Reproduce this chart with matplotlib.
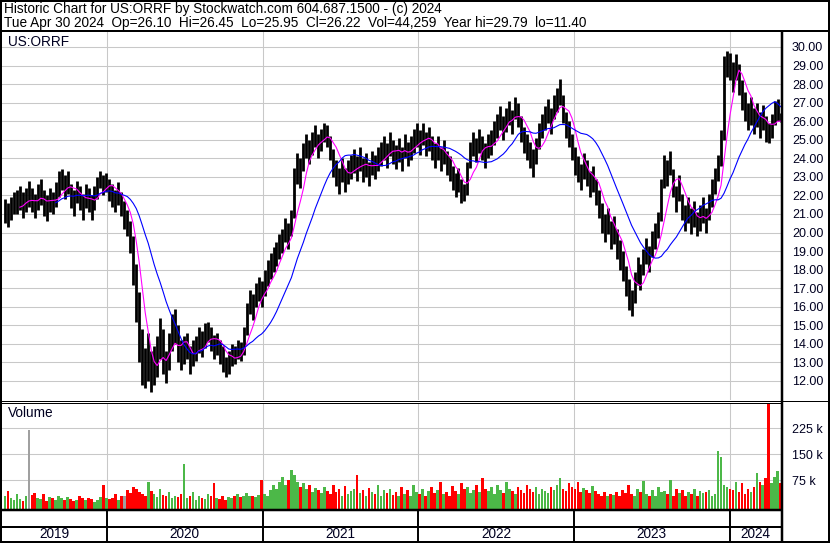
import matplotlib
matplotlib.use("Agg")
import matplotlib.pyplot as plt
from matplotlib.lines import Line2D
import numpy as np
import pandas as pd

plt.rcParams['font.family'] = ['Liberation Sans', 'DejaVu Sans']

# weekly values (US:ORRF, May 2019 - Apr 2024)
close = [21.0, 20.9, 21.3, 21.5,
         21.6, 21.9, 21.4, 21.8, 22.0, 21.7, 21.5, 21.9, 22.2, 21.6, 21.3, 21.8, 21.6,
         22.0, 22.6, 23.0, 22.4, 22.8,
         22.0, 21.6, 22.3, 21.9, 21.5, 22.0, 21.8, 21.4, 21.9,
         22.5, 23.0, 22.6, 22.8, 22.3,
         22.0, 21.7, 22.2, 21.6, 21.0,
         20.4, 19.6, 18.0, 16.5, 14.8,
         13.0, 12.2, 13.5, 12.0, 12.8,
         13.5, 14.6, 13.2, 12.5, 13.8, 14.8, 15.3, 13.9,
         13.2, 13.6, 13.9, 13.0, 13.4, 13.7, 14.2, 14.0,
         14.5, 14.8, 14.3, 13.9, 14.1, 13.6,
         13.2, 12.7, 13.0, 13.5, 13.4, 13.8, 13.6,
         14.2, 15.5, 16.3, 16.0, 16.8, 17.0,
         16.7, 17.3, 17.8, 18.2, 18.6, 18.9,
         19.3, 19.6, 20.2, 19.8, 20.5,
         22.8, 23.6, 23.2, 24.2, 24.8,
         24.4, 24.9, 25.3, 24.7, 25.1, 25.6, 25.3,
         24.6, 23.8, 23.2, 22.8, 23.4, 22.9,
         23.3, 23.6, 23.9, 23.5, 24.0, 23.4, 23.7, 23.2, 23.8, 23.6,
         24.0, 24.3, 24.6, 24.2, 24.8, 24.4, 24.1, 24.5, 24.0, 24.7, 24.3, 24.6,
         25.0, 25.3, 24.9, 25.4, 24.8, 25.1, 24.6,
         24.2, 24.6, 24.0, 24.4, 23.8,
         23.5, 23.0, 22.6, 22.9, 22.3, 22.0,
         23.2, 24.3, 24.8, 24.5, 25.0, 24.6, 24.2, 24.7, 24.9,
         25.4, 25.8, 26.2, 25.7, 26.1, 26.5, 26.0, 26.8, 26.4,
         25.6, 25.0, 24.6, 24.2, 23.8, 24.4, 25.2,
         25.8, 26.2, 26.6, 26.0, 26.8, 27.2, 27.6,
         26.6, 25.8, 25.3, 24.6, 23.8,
         23.4, 23.0, 23.6, 23.2, 22.6, 22.9, 22.2, 21.6,
         20.8, 20.2, 20.6, 19.8, 20.2, 19.4, 18.8,
         18.2, 17.4, 16.6, 16.0, 17.2,
         18.0, 17.6, 18.4, 19.0, 18.6, 19.4, 19.8, 20.4,
         22.2, 23.6, 23.2, 23.8,
         22.6, 21.8, 22.4, 21.4, 20.8, 21.2, 20.6,
         21.0, 20.4, 20.8, 21.2, 20.6, 21.4,
         22.2, 22.8, 23.5, 24.8,
         28.6, 29.3, 29.0, 28.4, 29.0,
         28.2, 27.4, 26.8, 26.2, 26.6,
         26.0, 26.4, 25.8, 26.2, 25.6, 25.2,
         25.8, 26.5, 26.7, 26.22]

high = [21.8, 21.6, 21.9, 22.2,
        22.3, 22.5, 22.2, 22.4, 22.8, 22.4, 22.1, 22.6, 22.9, 22.3, 22.0, 22.4, 22.2,
        22.7, 23.3, 23.4, 23.1, 23.3,
        22.6, 22.3, 22.8, 22.5, 22.1, 22.6, 22.4, 22.0, 22.5,
        23.0, 23.3, 23.1, 23.2, 22.9,
        22.6, 22.3, 22.7, 22.2, 21.7,
        21.2, 20.6, 19.8, 18.3, 16.8,
        14.8, 13.8, 14.6, 13.6, 13.9,
        14.4, 15.4, 14.8, 13.6, 14.6, 15.6, 15.9, 15.0,
        14.2, 14.4, 14.6, 13.9, 14.2, 14.4, 14.9, 14.7,
        15.1, 15.2, 14.9, 14.5, 14.6, 14.2,
        13.9, 13.3, 13.6, 14.0, 13.9, 14.2, 14.1,
        14.9, 16.2, 16.9, 16.7, 17.3, 17.6,
        17.4, 18.0, 18.5, 18.9, 19.2, 19.5,
        19.9, 20.2, 20.8, 20.5, 21.2,
        23.5, 24.3, 24.0, 24.8, 25.3,
        25.0, 25.4, 25.8, 25.3, 25.6, 25.9, 25.8,
        25.2, 24.5, 23.9, 23.5, 24.0, 23.5,
        23.9, 24.2, 24.5, 24.1, 24.6, 24.0, 24.3, 23.8, 24.4, 24.2,
        24.6, 24.9, 25.2, 24.8, 25.4, 25.0, 24.7, 25.1, 24.6, 25.3, 24.9, 25.2,
        25.6, 25.9, 25.5, 25.9, 25.4, 25.7, 25.2,
        24.8, 25.2, 24.6, 25.0, 24.4,
        24.1, 23.6, 23.2, 23.5, 22.9, 22.6,
        23.8, 24.9, 25.4, 25.1, 25.6, 25.2, 24.8, 25.3, 25.5,
        26.0, 26.4, 26.8, 26.3, 26.7, 27.1, 26.6, 27.3, 27.0,
        26.3, 25.7, 25.3, 24.9, 24.5, 25.1, 25.9,
        26.4, 26.8, 27.2, 26.7, 27.4, 27.8, 28.3,
        27.4, 26.5, 26.0, 25.3, 24.6,
        24.1, 23.7, 24.3, 23.9, 23.3, 23.6, 22.9, 22.3,
        21.6, 21.0, 21.3, 20.6, 20.9, 20.2, 19.6,
        19.0, 18.2, 17.5, 16.9, 17.9,
        18.7, 18.3, 19.1, 19.7, 19.3, 20.1, 20.5, 21.1,
        22.9, 24.2, 23.9, 24.4,
        23.4, 22.5, 23.1, 22.1, 21.5, 21.9, 21.3,
        21.7, 21.1, 21.5, 21.9, 21.3, 22.1,
        22.9, 23.5, 24.2, 25.5,
        29.5, 29.79, 29.7, 29.2, 29.6,
        29.1, 28.2, 27.6, 27.0, 27.3,
        26.7, 27.0, 26.5, 26.9, 26.3, 25.9,
        26.4, 27.1, 27.2, 26.45]

low = [20.5, 20.3, 20.7, 21.0,
       21.0, 21.2, 20.8, 21.1, 21.4, 21.1, 20.8, 21.2, 21.5, 20.9, 20.6, 21.1, 21.0,
       21.4, 21.9, 22.3, 21.8, 22.1,
       21.3, 20.9, 21.6, 21.2, 20.7, 21.3, 21.1, 20.7, 21.2,
       21.8, 22.4, 22.0, 22.2, 21.7,
       21.4, 21.1, 21.5, 20.9, 20.2,
       19.8, 18.9, 17.2, 15.2, 13.0,
       11.8, 11.6, 12.0, 11.4, 11.8,
       12.2, 13.2, 12.4, 11.9, 12.6, 13.6, 14.0, 13.0,
       12.6, 12.9, 13.2, 12.4, 12.8, 13.1, 13.5, 13.3,
       13.8, 14.1, 13.6, 13.2, 13.4, 12.9,
       12.5, 12.2, 12.4, 12.8, 12.9, 13.2, 13.1,
       13.4, 14.5, 15.6, 15.3, 16.0, 16.3,
       16.0, 16.6, 17.1, 17.5, 17.9, 18.2,
       18.6, 18.9, 19.5, 19.1, 19.8,
       20.8, 22.6, 22.4, 23.3, 24.0,
       23.7, 24.2, 24.6, 24.0, 24.4, 24.9, 24.6,
       23.9, 23.0, 22.5, 22.1, 22.7, 22.2,
       22.6, 22.9, 23.2, 22.8, 23.3, 22.7, 23.0, 22.5, 23.1, 22.9,
       23.3, 23.6, 23.9, 23.5, 24.1, 23.7, 23.4, 23.8, 23.3, 24.0, 23.6, 23.9,
       24.3, 24.6, 24.2, 24.7, 24.1, 24.4, 23.9,
       23.5, 23.9, 23.3, 23.7, 23.1,
       22.8, 22.3, 21.9, 22.2, 21.6, 21.7,
       22.0, 23.5, 24.1, 23.8, 24.3, 23.9, 23.5, 24.0, 24.2,
       24.7, 25.1, 25.5, 25.0, 25.4, 25.8, 25.3, 26.1, 25.7,
       24.9, 24.3, 23.9, 23.5, 23.0, 23.7, 24.5,
       25.1, 25.5, 25.9, 25.3, 26.1, 26.5, 26.9,
       25.9, 25.1, 24.6, 23.9, 23.1,
       22.7, 22.3, 22.9, 22.5, 21.9, 22.2, 21.5, 20.8,
       20.0, 19.5, 19.9, 19.1, 19.4, 18.6, 18.0,
       17.4, 16.6, 15.8, 15.5, 16.2,
       17.2, 16.9, 17.7, 18.3, 17.9, 18.7, 19.1, 19.7,
       20.6, 22.4, 22.5, 23.1,
       21.9, 21.1, 21.7, 20.7, 20.1, 20.5, 19.9,
       20.3, 19.8, 20.1, 20.5, 20.0, 20.7,
       21.4, 22.1, 22.8, 23.6,
       25.0, 28.4, 28.2, 27.6, 28.2,
       27.4, 26.6, 26.0, 25.5, 25.8,
       25.3, 25.7, 25.1, 25.5, 24.9, 24.8,
       25.1, 25.8, 26.0, 25.95]

volume_k = [28, 42, 22, 18, 35, 20, 15, 28, 218, 32, 38, 22, 20, 34, 14, 26, 24,
            18, 30, 22, 16, 25, 20, 14, 18, 28, 22, 16, 24, 20, 12, 18, 26, 62, 22,
            20, 24, 35, 18, 28, 30, 45, 38, 55, 48, 40, 35, 28, 70, 42, 36, 25, 50,
            32, 28, 40, 22, 30, 26, 35, 120, 22, 28, 40, 18, 30, 24, 20, 36, 28, 65,
            24, 20, 28, 18, 26, 22, 30, 34, 25, 30, 38, 30, 28, 26, 32, 75,
            35, 30, 45, 60, 50, 70, 85, 60, 75, 105, 90, 70, 55, 65, 48, 60, 40, 52,
            45, 38, 55, 42, 35, 60, 40, 48, 30, 58, 35, 42, 50, 90, 38, 45, 30, 52, 40, 35, 60, 28, 45, 38, 50, 32,
            40, 30, 55, 35, 45, 28, 62, 40, 35, 48, 30, 42, 55, 38, 45, 70, 35, 40, 30, 58, 42, 35, 65, 48, 55, 38,
            45, 60, 40, 80, 50, 42, 55, 35, 60, 45, 38, 70, 50, 42, 35, 55, 45, 38, 60, 48, 40, 55, 35, 50, 42, 38,
            55, 45, 60, 80, 50, 42, 65, 55, 48, 70, 40, 52, 45, 38, 58, 42, 35, 30, 40, 28, 35, 32, 40, 30, 45, 38,
            62, 35, 28, 50, 40, 72, 35, 30, 45, 28, 55, 40, 42, 35, 75, 30, 50, 38, 45, 28, 40, 35, 48, 30, 42, 38,
            40, 45, 30, 35, 160, 140, 60, 55, 50, 45, 70, 40, 65, 35, 50, 40, 55, 95, 70, 60, 80, 295, 65, 85, 100, 65]
gray_weeks = [8, 40]

ma_fast_weeks = 6
ma_slow_weeks = 18

price_ticks = list(range(12, 31))
vol_ticks = [75, 150, 225]
years = [2019, 2020, 2021, 2022, 2023, 2024]

header1 = "Historic Chart for US:ORRF by Stockwatch.com 604.687.1500 - (c) 2024"
header2 = ("Tue Apr 30 2024  Op=26.10  Hi=26.45  Lo=25.95  Cl=26.22  "
           "Vol=44,259  Year hi=29.79  lo=11.40")

dates = pd.date_range(end="2024-04-30", periods=len(close), freq="7D")
s_close = pd.Series(close, index=dates)
ma_fast = s_close.rolling(ma_fast_weeks).mean()
ma_slow = s_close.rolling(ma_slow_weeks).mean()

up = np.r_[True, np.diff(close) >= 0]
vcolors = np.where(up, "#4cb848", "#ff0000").astype(object)
for w in gray_weeks:
    vcolors[w] = "#a0a0a0"

W, H = 830, 543
fig = plt.figure(figsize=(W / 100, H / 100), dpi=100)


def box(x0, y0, x1, y1):
    return [x0 / W, 1 - y1 / H, (x1 - x0) / W, (y1 - y0) / H]


def line(x0, y0, x1, y1, px=1):
    fig.add_artist(Line2D([x0 / W, x1 / W], [1 - y0 / H, 1 - y1 / H],
                          color="black", lw=px * 0.72, transform=fig.transFigure,
                          solid_capstyle="butt"))


xlim = (pd.Timestamp("2019-04-30"), pd.Timestamp("2024-05-03"))
year_starts = [pd.Timestamp(f"{y}-01-01") for y in years[1:]]
grid_kw = dict(color="#c8c8c8", lw=0.75)
lab_kw = dict(labelsize=9, labelcolor="#000020")

# price panel
ax = fig.add_axes(box(2, 32, 782, 400))
ax.set_xlim(xlim)
ax.set_ylim(10.976, 30.808)
ax.set_yticks(price_ticks)
ax.set_yticklabels([f"{v:.2f}" for v in price_ticks])
ax.set_xticks(year_starts)
ax.set_xticklabels([])
ax.grid(True, **grid_kw)
ax.set_axisbelow(True)
ax.tick_params(axis="y", left=False, right=False, labelleft=False, labelright=True,
               pad=3.6, **lab_kw)
ax.tick_params(axis="x", length=0)
for sp in ax.spines.values():
    sp.set_visible(False)
ax.vlines(dates, low, high, color="black", lw=2.0)
ax.plot(dates, ma_fast, color="#ff00ff", lw=0.8)
ax.plot(dates, ma_slow, color="#0000ff", lw=0.8)
ax.text(6 / 780, 1 - 10 / 368, "US:ORRF", transform=ax.transAxes, fontsize=9.8,
        va="center", ha="left", color="#000020")

# volume panel
av = fig.add_axes(box(2, 403, 782, 509))
av.set_xlim(xlim)
vmin, vmax = -8.6, 297.1
av.set_ylim(vmin, vmax)
av.bar(dates, np.array(volume_k) - vmin, bottom=vmin, width=6.2, color=vcolors, linewidth=0)
av.set_yticks(vol_ticks)
av.set_yticklabels([f"{v} k" for v in vol_ticks])
av.set_xticks(year_starts)
av.set_xticklabels([])
av.grid(True, **grid_kw)
av.set_axisbelow(True)
av.tick_params(axis="y", left=False, right=False, labelleft=False, labelright=True,
               pad=3.6, **lab_kw)
av.tick_params(axis="x", length=0)
for sp in av.spines.values():
    sp.set_visible(False)
av.text(6 / 780, 1 - 10 / 106, "Volume", transform=av.transAxes, fontsize=9.8,
        va="center", ha="left", color="#000020")

# year strip
ay = fig.add_axes(box(2, 510, 782, 541))
ay.set_xlim(xlim)
ay.set_ylim(0, 1)
ay.axis("off")
for d in year_starts:
    ay.axvline(d, color="black", lw=1.4)
edges = [xlim[0]] + year_starts + [xlim[1]]
for y, a, b in zip(years, edges[:-1], edges[1:]):
    ay.text(a + (b - a) / 2, 0.24, str(y), ha="center", va="center", fontsize=9.8,
            color="#000020")

# frame lines
line(0, 1, W, 1, 2)
line(1, 0, 1, H, 2)
line(W - 1, 0, W - 1, H, 2)
line(0, H - 1, W, H - 1, 2)
line(0, 31, W, 31, 2)
line(782, 31, 782, H, 2.5)
line(0, 400.5, W, 400.5, 1)
line(0, 402.5, 782, 402.5, 1)
line(0, 510, 782, 510, 2.5)
line(0, 527, 782, 527, 2)

fig.text(4 / W, 1 - 9 / H, header1, fontsize=9.8, va="center", ha="left")
fig.text(4 / W, 1 - 23 / H, header2, fontsize=9.8, va="center", ha="left")

fig.savefig("out.png", dpi=100)
